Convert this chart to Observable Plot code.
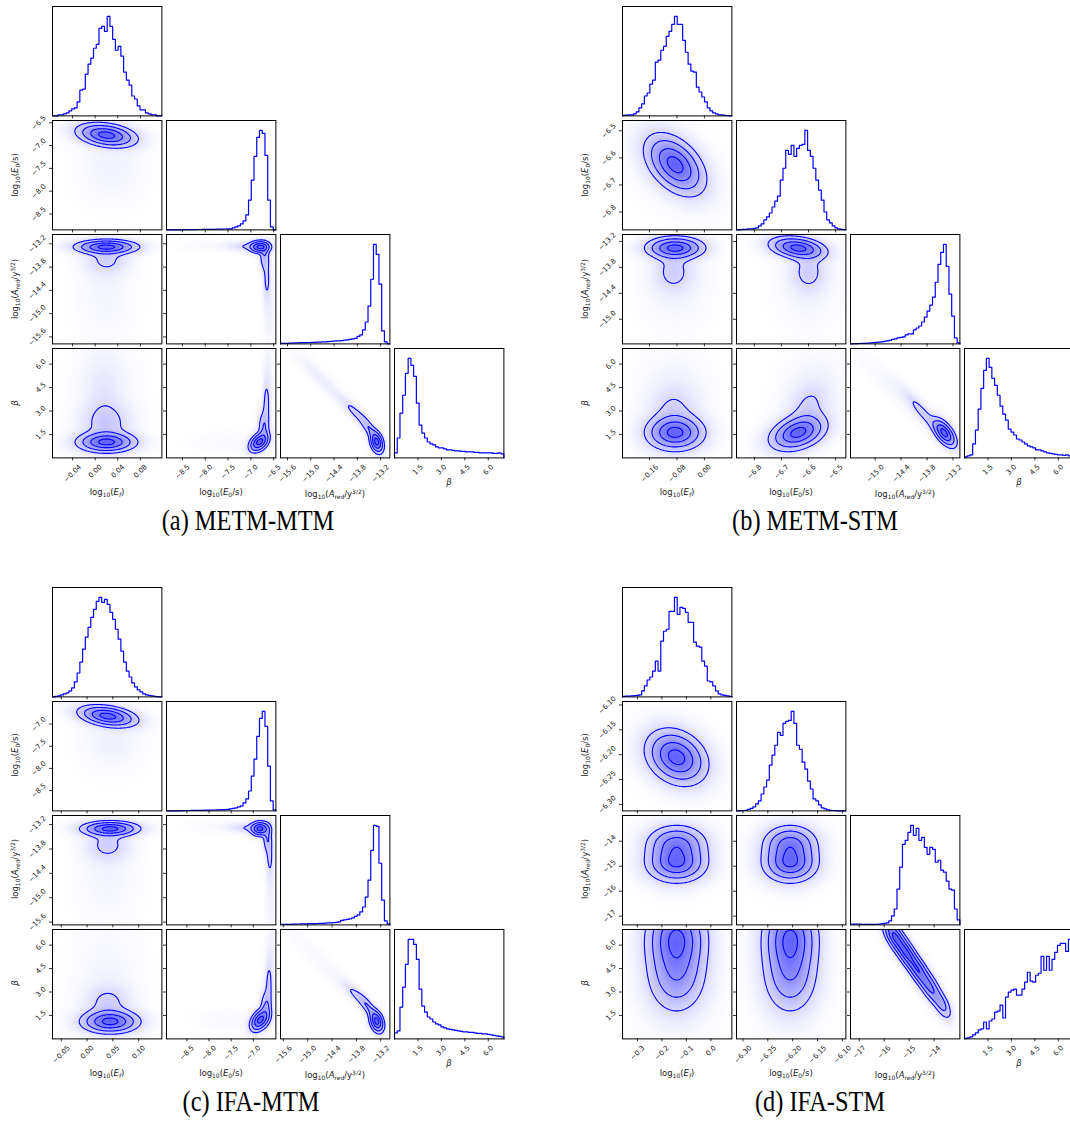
<!DOCTYPE html>
<html><head><meta charset="utf-8">
<script src="https://cdn.jsdelivr.net/npm/d3@7"></script>
<script src="https://cdn.jsdelivr.net/npm/@observablehq/plot@0.6"></script>
<style>
body{margin:0;background:#fff;}
#root{position:relative;width:1070px;height:1142px;overflow:hidden;font-family:"DejaVu Sans",sans-serif;background:#fff;}
.panel{position:absolute;}
.panel svg{overflow:visible;max-width:none;}
.xl,.yl{position:absolute;font-size:8.5px;white-space:nowrap;color:#222;transform:translate(-50%,-50%);line-height:1;}
.yl{transform:translate(-50%,-50%) rotate(-90deg);}
.xl sub,.yl sub{font-size:70%;vertical-align:-0.3em;line-height:0;}
.xl sup,.yl sup{font-size:70%;vertical-align:0.45em;line-height:0;}
.cap{position:absolute;font-family:"Liberation Serif","Times New Roman",serif;font-size:29px;transform:translate(-50%,-50%) scaleX(0.84);white-space:nowrap;color:#000;line-height:1;}
</style>
</head><body><div id="root"></div>
<script>
// ---------------- DATA ----------------
const captions = ["(a) METM-MTM", "(b) METM-STM", "(c) IFA-MTM", "(d) IFA-STM"];
const varLabels = [
  "log<sub>10</sub>(<i>E</i><sub><i>f</i></sub>)",
  "log<sub>10</sub>(<i>E</i><sub>0</sub>/s)",
  "log<sub>10</sub>(<i>A</i><sub>red</sub>/y<sup>3/2</sup>)",
  "<i>β</i>"
];

// (a) METM-MTM
const a_range_Ef = [-0.0755, 0.118], a_range_E0 = [-8.85, -6.45], a_range_A = [-15.78, -12.96], a_range_beta = [0, 7];
const a_ticks_Ef = [-0.04, 0, 0.04, 0.08], a_ticks_E0 = [-8.5, -8, -7.5, -7, -6.5], a_ticks_A = [-15.6, -15, -14.4, -13.8, -13.2], a_ticks_beta = [1.5, 3, 4.5, 6];
const a_hist_Ef = [0,0,0.01,0.01,0.02,0.03,0.05,0.07,0.08,0.14,0.26,0.27,0.42,0.52,0.58,0.68,0.72,0.88,0.9,0.85,1.0,0.9,0.77,0.66,0.7,0.6,0.44,0.36,0.31,0.2,0.17,0.1,0.06,0.06,0.03,0.02,0.01,0.01,0,0];
const a_hist_E0 = [0,0,0,0,0,0,0.002,0.002,0.003,0.003,0.003,0.004,0.004,0.005,0.005,0.005,0.006,0.006,0.007,0.008,0.008,0.009,0.01,0.01,0.02,0.03,0.04,0.06,0.09,0.15,0.3,0.5,0.74,0.93,1.0,0.97,0.75,0.3,0.03,0];
const a_hist_A = [0.005,0.005,0.006,0.007,0.008,0.01,0.01,0.012,0.012,0.013,0.014,0.015,0.015,0.017,0.018,0.02,0.02,0.022,0.025,0.027,0.03,0.03,0.033,0.037,0.04,0.045,0.05,0.055,0.075,0.09,0.14,0.22,0.38,0.65,1.0,0.9,0.6,0.13,0.02,0];
const a_hist_beta = [0.05,0.2,0.45,0.63,0.85,1.0,0.93,0.82,0.55,0.33,0.25,0.2,0.16,0.14,0.13,0.11,0.1,0.1,0.09,0.08,0.08,0.075,0.07,0.07,0.065,0.065,0.06,0.06,0.06,0.055,0.055,0.05,0.05,0.05,0.05,0.05,0.045,0.045,0.05,0.04];
// 2D blobs: [centre x, centre y, spread x, spread y, correlation, weight]
const a_2d_Ef_E0 = [[0.02,-6.77,0.028,0.14,-0.3,1],[0.03,-7.4,0.035,0.5,0,0.025]];
const a_2d_Ef_A = [[0.02,-13.28,0.03,0.1,0,1],[0.02,-13.6,0.022,0.25,0,0.18],[0.02,-14.5,0.03,0.7,0,0.02]];
const a_2d_E0_A = [[-6.8,-13.28,0.13,0.09,0,1],[-7.15,-13.27,0.22,0.07,0,0.12],[-6.7,-13.55,0.06,0.2,0,0.3],[-6.65,-14.1,0.05,0.35,0,0.17],[-6.6,-14.8,0.07,0.6,0,0.04],[-7.6,-13.25,0.5,0.08,0,0.015]];
const a_2d_Ef_beta = [[0.02,1.0,0.028,0.35,0,1],[0.02,2.2,0.025,0.8,0,0.2],[0.015,4.0,0.02,1.5,0,0.06],[0.02,4.0,0.035,2.5,0,0.02]];
const a_2d_E0_beta = [[-6.82,1.0,0.12,0.35,0.4,1],[-6.72,2.0,0.07,0.6,0,0.3],[-6.66,3.4,0.05,1.0,0,0.18],[-6.62,5.0,0.06,1.5,0,0.04],[-7.5,1.0,0.5,0.4,0,0.01]];
const a_2d_A_beta = [[-13.3,1.0,0.1,0.4,-0.3,1],[-13.5,1.9,0.15,0.5,-0.8,0.3],[-13.85,2.9,0.2,0.5,-0.85,0.18],[-14.6,4.7,0.4,1.0,-0.95,0.04],[-14.5,4.5,0.7,1.8,-0.97,0.01]];

// (b) METM-STM
const b_range_Ef = [-0.2385, 0.08], b_range_E0 = [-6.866, -6.462], b_range_A = [-15.57, -13.04], b_range_beta = [0, 7];
const b_ticks_Ef = [-0.16, -0.08, 0], b_ticks_E0 = [-6.8, -6.7, -6.6, -6.5], b_ticks_A = [-15, -14.4, -13.8, -13.2], b_ticks_beta = [1.5, 3, 4.5, 6];
const b_hist_Ef = [0.005,0.007,0.01,0.01,0.02,0.04,0.08,0.12,0.2,0.23,0.32,0.36,0.54,0.56,0.66,0.7,0.8,0.85,0.92,1.0,0.92,0.92,0.76,0.64,0.52,0.45,0.44,0.29,0.24,0.19,0.14,0.08,0.05,0.03,0.02,0.01,0.01,0.005,0.003,0];
const b_hist_E0 = [0,0.003,0.005,0.005,0.01,0.01,0.015,0.02,0.04,0.06,0.1,0.13,0.17,0.23,0.29,0.34,0.5,0.62,0.8,0.76,0.85,0.74,0.82,0.85,0.86,1.0,0.8,0.74,0.62,0.5,0.4,0.3,0.18,0.1,0.07,0.04,0.02,0.01,0.005,0.003];
const b_hist_A = [0,0.002,0.003,0.004,0.005,0.006,0.008,0.01,0.012,0.015,0.018,0.02,0.025,0.03,0.035,0.045,0.05,0.06,0.065,0.07,0.09,0.1,0.1,0.14,0.16,0.18,0.22,0.27,0.33,0.39,0.47,0.62,0.8,0.92,1.0,0.78,0.5,0.28,0.06,0.01];
const b_hist_beta = [0.01,0.02,0.03,0.14,0.28,0.49,0.7,0.88,1.0,0.91,0.8,0.73,0.63,0.52,0.44,0.38,0.29,0.26,0.23,0.19,0.18,0.16,0.14,0.12,0.11,0.1,0.08,0.08,0.07,0.06,0.05,0.045,0.04,0.035,0.03,0.03,0.025,0.03,0.02,0.015];
const b_2d_Ef_E0 = [[-0.085,-6.625,0.045,0.058,-0.45,1],[-0.09,-6.63,0.07,0.09,-0.4,0.05]];
const b_2d_Ef_A = [[-0.085,-13.35,0.045,0.14,0,1],[-0.09,-13.9,0.035,0.3,0,0.18],[-0.08,-14.3,0.06,0.6,0,0.02]];
const b_2d_E0_A = [[-6.64,-13.35,0.055,0.14,-0.3,1],[-6.6,-13.9,0.04,0.3,0,0.18],[-6.6,-14.3,0.07,0.6,0,0.02]];
const b_2d_Ef_beta = [[-0.085,1.6,0.045,0.6,0,1],[-0.09,3.0,0.04,1.0,0,0.15],[-0.085,3.5,0.06,2.0,0,0.03]];
const b_2d_E0_beta = [[-6.64,1.6,0.055,0.6,0.35,1],[-6.6,3.2,0.045,1.0,0.3,0.15],[-6.6,3.5,0.07,2.0,0.3,0.03]];
const b_2d_A_beta = [[-13.4,1.6,0.15,0.5,-0.6,1],[-13.9,2.9,0.25,0.8,-0.9,0.18],[-14.3,3.8,0.6,1.6,-0.95,0.02]];

// (c) IFA-MTM
const c_range_Ef = [-0.067, 0.145], c_range_E0 = [-8.96, -6.49], c_range_A = [-15.67, -12.975], c_range_beta = [0, 7];
const c_ticks_Ef = [-0.05, 0, 0.05, 0.1], c_ticks_E0 = [-8.5, -8, -7.5, -7], c_ticks_A = [-15.6, -15, -14.4, -13.8, -13.2], c_ticks_beta = [1.5, 3, 4.5, 6];
const c_hist_Ef = [0,0.005,0.01,0.02,0.03,0.04,0.06,0.09,0.15,0.24,0.35,0.48,0.6,0.7,0.8,0.88,0.96,1.0,0.95,0.98,0.93,0.85,0.78,0.68,0.58,0.46,0.35,0.26,0.2,0.14,0.1,0.07,0.05,0.03,0.02,0.015,0.01,0.005,0.003,0];
const c_hist_E0 = [0,0,0,0,0,0.003,0.003,0.004,0.004,0.005,0.005,0.005,0.006,0.006,0.007,0.008,0.008,0.009,0.01,0.01,0.012,0.013,0.015,0.02,0.025,0.03,0.04,0.05,0.08,0.12,0.2,0.35,0.52,0.75,0.93,1.0,0.85,0.45,0.1,0.01];
const c_hist_A = [0.005,0.005,0.006,0.006,0.008,0.008,0.009,0.01,0.01,0.011,0.012,0.012,0.013,0.014,0.015,0.016,0.018,0.02,0.02,0.022,0.025,0.03,0.045,0.05,0.055,0.06,0.07,0.085,0.1,0.13,0.18,0.28,0.45,0.75,1.0,0.99,0.62,0.25,0.04,0.01];
const c_hist_beta = [0.06,0.08,0.32,0.52,0.75,1.0,1.0,0.95,0.8,0.5,0.33,0.27,0.22,0.2,0.17,0.15,0.14,0.12,0.11,0.1,0.095,0.09,0.085,0.08,0.075,0.07,0.07,0.065,0.065,0.06,0.055,0.055,0.05,0.05,0.045,0.04,0.035,0.03,0.025,0.02];
const c_2d_Ef_E0 = [[0.04,-6.82,0.03,0.13,-0.35,1],[0.05,-7.3,0.035,0.45,0,0.03]];
const c_2d_Ef_A = [[0.045,-13.3,0.03,0.1,0,1],[0.04,-13.7,0.025,0.25,0,0.18],[0.04,-14.5,0.035,0.7,0,0.02]];
const c_2d_E0_A = [[-6.85,-13.3,0.12,0.1,0,1],[-7.2,-13.28,0.2,0.07,0,0.12],[-6.68,-13.55,0.06,0.2,0,0.3],[-6.63,-14.0,0.05,0.3,0,0.17],[-6.6,-14.8,0.06,0.6,0,0.04],[-7.6,-13.25,0.5,0.08,0,0.015]];
const c_2d_Ef_beta = [[0.045,1.1,0.03,0.4,0,1],[0.04,2.3,0.025,0.7,0,0.18],[0.04,3.5,0.04,2.5,0,0.02]];
const c_2d_E0_beta = [[-6.85,1.2,0.12,0.4,0.4,1],[-6.72,2.1,0.07,0.6,0,0.3],[-6.65,3.4,0.05,1.0,0,0.18],[-6.6,5.0,0.06,1.5,0,0.04],[-7.5,1.2,0.5,0.4,0,0.01]];
const c_2d_A_beta = [[-13.3,1.1,0.1,0.4,-0.3,1],[-13.5,2.0,0.15,0.5,-0.8,0.3],[-13.8,2.8,0.2,0.5,-0.85,0.17],[-14.5,4.5,0.7,1.8,-0.97,0.012]];

// (d) IFA-STM
const d_range_Ef = [-0.361, 0.086], d_range_E0 = [-6.313, -6.093], d_range_A = [-17.35, -12.97], d_range_beta = [0, 7];
const d_ticks_Ef = [-0.3, -0.2, -0.1, 0], d_ticks_E0 = [-6.3, -6.25, -6.2, -6.15, -6.1], d_ticks_A = [-17, -16, -15, -14], d_ticks_beta = [1.5, 3, 4.5, 6];
const d_hist_Ef = [0.005,0.007,0.008,0.01,0.012,0.015,0.02,0.06,0.11,0.17,0.2,0.26,0.36,0.26,0.56,0.66,0.68,0.86,0.86,1.0,0.83,0.9,0.89,0.85,0.75,0.75,0.55,0.51,0.5,0.36,0.31,0.16,0.15,0.11,0.06,0.03,0.02,0.015,0.01,0.005];
const d_hist_E0 = [0,0.002,0.004,0.006,0.015,0.025,0.04,0.07,0.1,0.17,0.24,0.31,0.46,0.56,0.66,0.79,0.76,0.88,0.9,0.91,1.0,0.88,0.66,0.62,0.49,0.42,0.3,0.22,0.12,0.1,0.06,0.03,0.02,0.01,0.006,0.004,0.002,0,0,0];
const d_hist_A = [0.008,0.008,0.008,0.007,0.006,0.006,0.005,0.005,0.005,0.006,0.008,0.01,0.015,0.02,0.04,0.09,0.16,0.36,0.58,0.81,0.85,0.93,1.0,0.9,0.97,0.85,0.88,0.78,0.71,0.78,0.76,0.63,0.65,0.55,0.53,0.44,0.36,0.35,0.16,0.05];
const d_hist_beta = [0.005,0.01,0.02,0.04,0.06,0.09,0.1,0.17,0.1,0.18,0.2,0.27,0.28,0.34,0.21,0.42,0.47,0.49,0.5,0.44,0.44,0.5,0.57,0.67,0.58,0.57,0.64,0.66,0.83,0.69,0.83,0.69,0.8,0.87,0.94,0.96,0.96,0.88,1.0,1.0];
const d_2d_Ef_E0 = [[-0.14,-6.205,0.065,0.029,-0.25,1],[-0.14,-6.205,0.09,0.04,-0.2,0.05]];
const d_2d_Ef_A = [[-0.14,-14.9,0.065,0.4,0,1],[-0.14,-14.1,0.065,0.4,0,0.8],[-0.14,-14.6,0.09,0.8,0,0.04]];
const d_2d_E0_A = [[-6.205,-14.9,0.029,0.4,0,1],[-6.205,-14.1,0.029,0.4,0,0.8],[-6.205,-14.6,0.04,0.8,0,0.04]];
const d_2d_Ef_beta = [[-0.14,6.5,0.065,1.3,0,1],[-0.14,4.0,0.065,1.3,0,0.55],[-0.14,4.5,0.09,2.5,0,0.04]];
const d_2d_E0_beta = [[-6.205,6.5,0.029,1.3,0,1],[-6.205,4.0,0.029,1.3,0,0.55],[-6.205,4.5,0.04,2.5,0,0.04]];
const d_2d_A_beta = [[-15.6,6.6,0.25,0.6,-0.6,1],[-15.12,5.5,0.25,0.6,-0.6,0.92],[-14.64,4.4,0.25,0.6,-0.6,0.82],[-14.16,3.3,0.25,0.6,-0.6,0.68],[-13.68,2.2,0.22,0.55,-0.6,0.45],[-14.7,4.5,0.6,1.8,-0.97,0.04]];

// ---------------- LAYOUT / DRAWING ----------------
const root = document.getElementById("root");
const S = 109.4, STEP = 113.95, TF = 7, TICK = 3, PAD = 3;
const LEVELS = [0.135, 0.325, 0.607, 0.882];
const BLUE = "#0000ff";
const XLAB_OFF = [35, 35, 37, 25];

const corners = [
  {ox: 52.3, oy: 6, cx: 248, cy: 520, cap: captions[0],
   ranges: [a_range_Ef, a_range_E0, a_range_A, a_range_beta], ticks: [a_ticks_Ef, a_ticks_E0, a_ticks_A, a_ticks_beta],
   fmts: [".2f", ".1f", ".1f", ".1f"], hists: [a_hist_Ef, a_hist_E0, a_hist_A, a_hist_beta],
   pairs: {"0-1": a_2d_Ef_E0, "0-2": a_2d_Ef_A, "1-2": a_2d_E0_A, "0-3": a_2d_Ef_beta, "1-3": a_2d_E0_beta, "2-3": a_2d_A_beta}},
  {ox: 622.3, oy: 6, cx: 815, cy: 520, cap: captions[1],
   ranges: [b_range_Ef, b_range_E0, b_range_A, b_range_beta], ticks: [b_ticks_Ef, b_ticks_E0, b_ticks_A, b_ticks_beta],
   fmts: [".2f", ".1f", ".1f", ".1f"], hists: [b_hist_Ef, b_hist_E0, b_hist_A, b_hist_beta],
   pairs: {"0-1": b_2d_Ef_E0, "0-2": b_2d_Ef_A, "1-2": b_2d_E0_A, "0-3": b_2d_Ef_beta, "1-3": b_2d_E0_beta, "2-3": b_2d_A_beta}},
  {ox: 52.3, oy: 586.7, cx: 251, cy: 1101, cap: captions[2],
   ranges: [c_range_Ef, c_range_E0, c_range_A, c_range_beta], ticks: [c_ticks_Ef, c_ticks_E0, c_ticks_A, c_ticks_beta],
   fmts: [".2f", ".1f", ".1f", ".1f"], hists: [c_hist_Ef, c_hist_E0, c_hist_A, c_hist_beta],
   pairs: {"0-1": c_2d_Ef_E0, "0-2": c_2d_Ef_A, "1-2": c_2d_E0_A, "0-3": c_2d_Ef_beta, "1-3": c_2d_E0_beta, "2-3": c_2d_A_beta}},
  {ox: 622.3, oy: 586.7, cx: 820, cy: 1101, cap: captions[3],
   ranges: [d_range_Ef, d_range_E0, d_range_A, d_range_beta], ticks: [d_ticks_Ef, d_ticks_E0, d_ticks_A, d_ticks_beta],
   fmts: [".1f", ".2f", ".0f", ".1f"], hists: [d_hist_Ef, d_hist_E0, d_hist_A, d_hist_beta],
   pairs: {"0-1": d_2d_Ef_E0, "0-2": d_2d_Ef_A, "1-2": d_2d_E0_A, "0-3": d_2d_Ef_beta, "1-3": d_2d_E0_beta, "2-3": d_2d_A_beta}}
];

function textW(s) { let w = 0; for (const c of s) w += c === "." ? 0.318 : c === "\u2212" ? 0.838 : 0.636; return w * TF; }
function halfBox(s) { return (textW(s) + 0.73 * TF) * 0.7071 / 2; }
const inRange = (ticks, r) => ticks.filter(t => t >= Math.min(...r) && t <= Math.max(...r));

function xTicks(ticks, fmt, labels) {
  const marks = [Plot.axisX({ticks, tickSize: TICK, tickFormat: () => "", label: null, anchor: "bottom", stroke: "#000", strokeWidth: 0.8})];
  if (labels) for (const t of ticks) {
    const s = fmt(t);
    marks.push(Plot.text([t], {x: d => d, frameAnchor: "bottom", text: () => s, rotate: -45, textAnchor: "middle", lineAnchor: "middle",
      dy: TICK + PAD + halfBox(s), fontSize: TF, fill: "#222", fontFamily: "DejaVu Sans"}));
  }
  return marks;
}
function yTicks(ticks, fmt, labels) {
  const marks = [Plot.axisY({ticks, tickSize: TICK, tickFormat: () => "", label: null, anchor: "left", stroke: "#000", strokeWidth: 0.8})];
  if (labels) for (const t of ticks) {
    const s = fmt(t);
    marks.push(Plot.text([t], {y: d => d, frameAnchor: "left", text: () => s, rotate: -45, textAnchor: "middle", lineAnchor: "middle",
      dx: -(TICK + PAD + halfBox(s)), fontSize: TF, fill: "#222", fontFamily: "DejaVu Sans"}));
  }
  return marks;
}

function mixture(blobs) {
  return (x, y) => {
    let s = 0;
    for (const [cx, cy, sx, sy, r, w] of blobs) {
      const dx = (x - cx) / sx, dy = (y - cy) / sy;
      s += w * Math.exp(-(dx * dx - 2 * r * dx * dy + dy * dy) / (2 * (1 - r * r)));
    }
    return s;
  };
}
function normalize(f, xr, yr) {
  let m = 0;
  for (let i = 0; i <= 160; i++) for (let j = 0; j <= 160; j++) {
    const v = f(xr[0] + (xr[1] - xr[0]) * i / 160, yr[0] + (yr[1] - yr[0]) * j / 160);
    if (v > m) m = v;
  }
  return (x, y) => f(x, y) / m;
}

function place(svg, left, top) {
  const div = document.createElement("div");
  div.className = "panel";
  div.style.left = left + "px"; div.style.top = top + "px";
  div.style.width = S + "px"; div.style.height = S + "px";
  div.appendChild(svg);
  root.appendChild(div);
}
function html(cls, inner, left, top) {
  const el = document.createElement("div");
  el.className = cls; el.innerHTML = inner;
  el.style.left = left + "px"; el.style.top = top + "px";
  root.appendChild(el);
}

function histPlot(range, h, ticks, fmt, labels) {
  const n = h.length, bw = (range[1] - range[0]) / n;
  const pts = [{x: range[0], y: 0}];
  h.forEach((v, i) => pts.push({x: range[0] + i * bw, y: v}));
  pts.push({x: range[1], y: h[n - 1]});
  pts.push({x: range[1], y: 0});
  return Plot.plot({
    width: S, height: S, margin: 0,
    style: {overflow: "visible", background: "transparent", maxWidth: "none"},
    x: {domain: range, axis: null}, y: {domain: [0, 1.1 * d3.max(h)], axis: null},
    marks: [
      Plot.line(pts, {x: "x", y: "y", curve: "step-after", stroke: BLUE, strokeWidth: 1.2}),
      ...xTicks(ticks, fmt, labels),
      Plot.frame({stroke: "#000", strokeWidth: 1})
    ]
  });
}

function pairPlot(xr, yr, blobs, xt, yt, xf, yf, xlab, ylab) {
  const f = normalize(mixture(blobs), xr, yr);
  return Plot.plot({
    width: S, height: S, margin: 0,
    style: {overflow: "visible", background: "transparent", maxWidth: "none"},
    x: {domain: xr, axis: null}, y: {domain: yr, axis: null},
    color: {type: "pow", exponent: 0.7, domain: [0, 1], range: ["#ffffff", "#6262ff"]},
    marks: [
      Plot.raster({fill: f, x1: xr[0], x2: xr[1], y1: yr[0], y2: yr[1], pixelSize: 1}),
      Plot.contour({value: f, x1: xr[0], x2: xr[1], y1: yr[0], y2: yr[1], pixelSize: 1, thresholds: LEVELS,
        stroke: BLUE, fill: "none", strokeWidth: 1.1}),
      ...xTicks(xt, xf, xlab),
      ...yTicks(yt, yf, ylab),
      Plot.frame({stroke: "#000", strokeWidth: 1})
    ]
  });
}

for (const c of corners) {
  const fmts = c.fmts.map(s => d3.format(s));
  const ticks = c.ticks.map((t, k) => inRange(t, c.ranges[k]));
  for (let i = 0; i < 4; i++) {
    for (let j = 0; j <= i; j++) {
      const left = c.ox + j * STEP, top = c.oy + i * STEP;
      let svg;
      if (i === j) {
        svg = histPlot(c.ranges[i], c.hists[i], ticks[i], fmts[i], i === 3);
      } else {
        svg = pairPlot(c.ranges[j], c.ranges[i], c.pairs[j + "-" + i], ticks[j], ticks[i], fmts[j], fmts[i], i === 3, j === 0);
      }
      place(svg, left, top);
    }
  }
  const bottom = c.oy + 3 * STEP + S;
  for (let k = 0; k < 4; k++) html("xl", varLabels[k], c.ox + k * STEP + S / 2, bottom + XLAB_OFF[k]);
  for (let k = 1; k < 4; k++) html("yl", varLabels[k], c.ox - 37, c.oy + k * STEP + S / 2);
  html("cap", c.cap, c.cx, c.cy);
}
</script>
</body></html>
